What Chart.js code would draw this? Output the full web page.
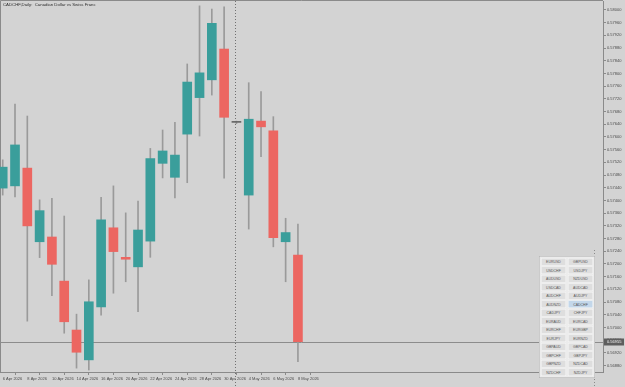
<!DOCTYPE html>
<html>
<head>
<meta charset="utf-8">
<script src="https://cdn.jsdelivr.net/npm/chart.js@4.4.1/dist/chart.umd.min.js"></script>
<style>
  body { margin: 0; background: #d3d3d3; }
  #wrap { position: relative; width: 625px; height: 387px; }
  #panel {
    position: absolute; left: 539px; top: 256px;
    width: 104px; height: 236px; padding: 3px;
    background: #ececec; border: 1px solid #a9a9a9;
    transform: scale(0.5); transform-origin: 0 0;
    display: grid; grid-template-columns: 50px 50px; column-gap: 4px;
    grid-template-rows: repeat(14, 15px); row-gap: 2px;
  }
  #panel div {
    background: #dedede; border: 1px solid #f7f7f7; box-sizing: border-box;
    font: 7px "Liberation Sans", Arial, sans-serif; color: #555;
    text-align: center; line-height: 13px;
  }
  #panel div.on { background: #c3d7ea; }
</style>
</head>
<body>
<div id="wrap">
  <canvas id="c" width="625" height="387"></canvas>
  <div id="panel"></div>
</div>
<script>
// ---- dati ----
var dates = ['6 Apr 2026', '7 Apr 2026', '8 Apr 2026', '9 Apr 2026', '10 Apr 2026', '13 Apr 2026', '14 Apr 2026',
  '15 Apr 2026', '16 Apr 2026', '17 Apr 2026', '20 Apr 2026', '21 Apr 2026', '22 Apr 2026', '23 Apr 2026',
  '24 Apr 2026', '27 Apr 2026', '28 Apr 2026', '29 Apr 2026', '30 Apr 2026', '1 May 2026', '4 May 2026',
  '5 May 2026', '6 May 2026', '7 May 2026', '8 May 2026'];

var opens  = [0.57439, 0.57446, 0.57502, 0.57270, 0.57285, 0.57146, 0.56992, 0.56898, 0.57065, 0.57314, 0.57221, 0.57191, 0.57272,
  0.57517, 0.57473, 0.57609, 0.57724, 0.57780, 0.57877, 0.57646, 0.57417, 0.57650, 0.57619, 0.57270, 0.57228];
var highs  = [0.57528, 0.57704, 0.57666, 0.57402, 0.57407, 0.57351, 0.57042, 0.57150, 0.57410, 0.57446, 0.57361, 0.57398, 0.57564,
  0.57622, 0.57646, 0.57830, 0.58013, 0.58003, 0.58010, 0.57650, 0.57771, 0.57743, 0.57664, 0.57344, 0.57326];
var lows   = [0.57417, 0.57411, 0.57020, 0.57220, 0.57100, 0.56982, 0.56872, 0.56866, 0.57039, 0.57108, 0.57144, 0.57050, 0.57221,
  0.57471, 0.57408, 0.57456, 0.57603, 0.57732, 0.57470, 0.57642, 0.57310, 0.57538, 0.57254, 0.57144, 0.56892];
var closes = [0.57505, 0.57575, 0.57320, 0.57368, 0.57199, 0.57018, 0.56922, 0.57081, 0.57339, 0.57239, 0.57215, 0.57307, 0.57532,
  0.57556, 0.57543, 0.57773, 0.57802, 0.57958, 0.57662, 0.57646, 0.57656, 0.57632, 0.57283, 0.57299, 0.56955];

var priceTicks = [0.58000, 0.57960, 0.57920, 0.57880, 0.57840, 0.57800, 0.57760, 0.57720, 0.57680, 0.57640,
  0.57600, 0.57560, 0.57520, 0.57480, 0.57440, 0.57400, 0.57360, 0.57320, 0.57280, 0.57240,
  0.57200, 0.57160, 0.57120, 0.57080, 0.57040, 0.57000, 0.56960, 0.56920, 0.56880];

var separatorDate = '1 May 2026';
var chartTitle = 'CADCHF,Daily:  Canadian Dollar vs Swiss Franc';

var symbols = ['EURUSD', 'GBPUSD', 'USDCHF', 'USDJPY', 'AUDUSD', 'NZDUSD', 'USDCAD', 'AUDCAD', 'AUDCHF', 'AUDJPY',
  'AUDNZD', 'CADCHF', 'CADJPY', 'CHFJPY', 'EURAUD', 'EURCAD', 'EURCHF', 'EURGBP', 'EURJPY', 'EURNZD',
  'GBPAUD', 'GBPCAD', 'GBPCHF', 'GBPJPY', 'GBPNZD', 'NZDCAD', 'NZDCHF', 'NZDJPY'];
var activeSymbol = 'CADCHF';

// ---- colori ----
var bullColor = '#3a9e9b';
var bearColor = '#ec6661';
var dojiColor = '#666666';
var wickColor = '#9a9a9a';
var axisColor = '#8a8a8a';
var textColor = '#4a4a4a';

// pannello simboli
var panel = document.getElementById('panel');
symbols.forEach(function (s) {
  var d = document.createElement('div');
  d.textContent = s;
  if (s === activeSymbol) d.className = 'on';
  panel.appendChild(d);
});

function bodyColor(i) {
  if (closes[i] > opens[i]) return bullColor;
  if (closes[i] < opens[i]) return bearColor;
  return dojiColor;
}

var wickData = dates.map(function (d, i) { return { x: i, y: [lows[i], highs[i]] }; });
var bodyData = dates.map(function (d, i) { return { x: i, y: [opens[i], closes[i]] }; });
var bodyColors = dates.map(function (d, i) { return bodyColor(i); });

// disegno extra: cornice, separatori, linea bid, titolo, etichetta prezzo
var extras = {
  id: 'extras',
  beforeDatasetsDraw: function (chart) {
    var ctx = chart.ctx, a = chart.chartArea;
    var xs = chart.scales.x, ys = chart.scales.y;
    ctx.save();
    ctx.strokeStyle = axisColor;
    ctx.lineWidth = 1;
    ctx.beginPath();
    ctx.moveTo(a.left + 0.5, a.bottom); ctx.lineTo(a.left + 0.5, a.top - 0.5);
    ctx.lineTo(a.right, a.top - 0.5);
    ctx.stroke();

    // separatore di periodo (mese)
    ctx.setLineDash([1, 2]);
    ctx.strokeStyle = '#707070';
    var sx = Math.round(xs.getPixelForValue(dates.indexOf(separatorDate))) - 0.5;
    ctx.beginPath(); ctx.moveTo(sx, a.top); ctx.lineTo(sx, 387); ctx.stroke();
    ctx.strokeStyle = '#8a8a8a';
    ctx.beginPath(); ctx.moveTo(594.5, 250); ctx.lineTo(594.5, 387); ctx.stroke();
    ctx.setLineDash([]);

    // linea bid
    var by = Math.round(ys.getPixelForValue(closes[closes.length - 1])) + 0.5;
    ctx.strokeStyle = '#8c8c8c';
    ctx.beginPath(); ctx.moveTo(a.left, by); ctx.lineTo(a.right, by); ctx.stroke();
    ctx.restore();
  },
  afterDraw: function (chart) {
    var ctx = chart.ctx, a = chart.chartArea;
    var ys = chart.scales.y;
    ctx.save();
    ctx.font = '4.3px "Liberation Sans", Arial, sans-serif';
    ctx.fillStyle = '#2e2e2e';
    ctx.textBaseline = 'middle';
    ctx.fillText(chartTitle, 3, 5);

    var last = closes[closes.length - 1];
    var y = ys.getPixelForValue(last);
    ctx.fillStyle = '#5e5e5e';
    ctx.fillRect(a.right + 1, Math.round(y) - 3.5, 20, 7);
    ctx.fillStyle = '#f2f2f2';
    ctx.font = '4px "Liberation Sans", Arial, sans-serif';
    ctx.fillText(last.toFixed(5), a.right + 4, Math.round(y));
    ctx.restore();
  }
};

var chart = new Chart(document.getElementById('c'), {
  type: 'bar',
  data: {
    datasets: [{
      label: 'wick',
      data: wickData,
      backgroundColor: wickColor,
      barThickness: 1,
      grouped: false,
      order: 2
    }, {
      label: 'body',
      data: bodyData,
      backgroundColor: bodyColors,
      barThickness: 9,
      minBarLength: 1,
      grouped: false,
      order: 1
    }]
  },
  options: {
    responsive: false,
    animation: false,
    layout: { padding: { top: 1, left: 0, right: 0, bottom: 0 } },
    plugins: { legend: { display: false }, tooltip: { enabled: false } },
    scales: {
      x: {
        type: 'linear',
        offset: false,
        min: -0.22,
        max: 48.8,
        afterBuildTicks: function (scale) {
          scale.ticks = dates.map(function (d, i) { return { value: i }; })
            .filter(function (t) { return t.value % 2 === 0; });
        },
        afterFit: function (scale) {
          scale.height = 15;
          scale.paddingLeft = 0;
          scale.paddingRight = 0;
        },
        grid: { drawOnChartArea: false, drawTicks: true, tickLength: 3, color: axisColor },
        border: { display: true, color: axisColor },
        ticks: {
          autoSkip: false, maxRotation: 0, align: 'start', padding: 1,
          color: textColor,
          font: { family: 'Liberation Sans', size: 4 },
          callback: function (v) { return dates[v]; }
        }
      },
      y: {
        position: 'right',
        min: 0.568598,
        max: 0.580283,
        afterBuildTicks: function (scale) {
          scale.ticks = priceTicks.map(function (p) { return { value: p }; });
        },
        afterFit: function (scale) {
          scale.width = 22;
          scale.paddingTop = 0;
          scale.paddingBottom = 0;
        },
        grid: { drawOnChartArea: false, drawTicks: true, tickLength: 3, color: axisColor },
        border: { display: true, color: axisColor },
        ticks: {
          autoSkip: false, padding: 1,
          color: textColor,
          font: { family: 'Liberation Sans', size: 4 },
          callback: function (v) { return v.toFixed(5); }
        }
      }
    }
  },
  plugins: [extras]
});
</script>
</body>
</html>
